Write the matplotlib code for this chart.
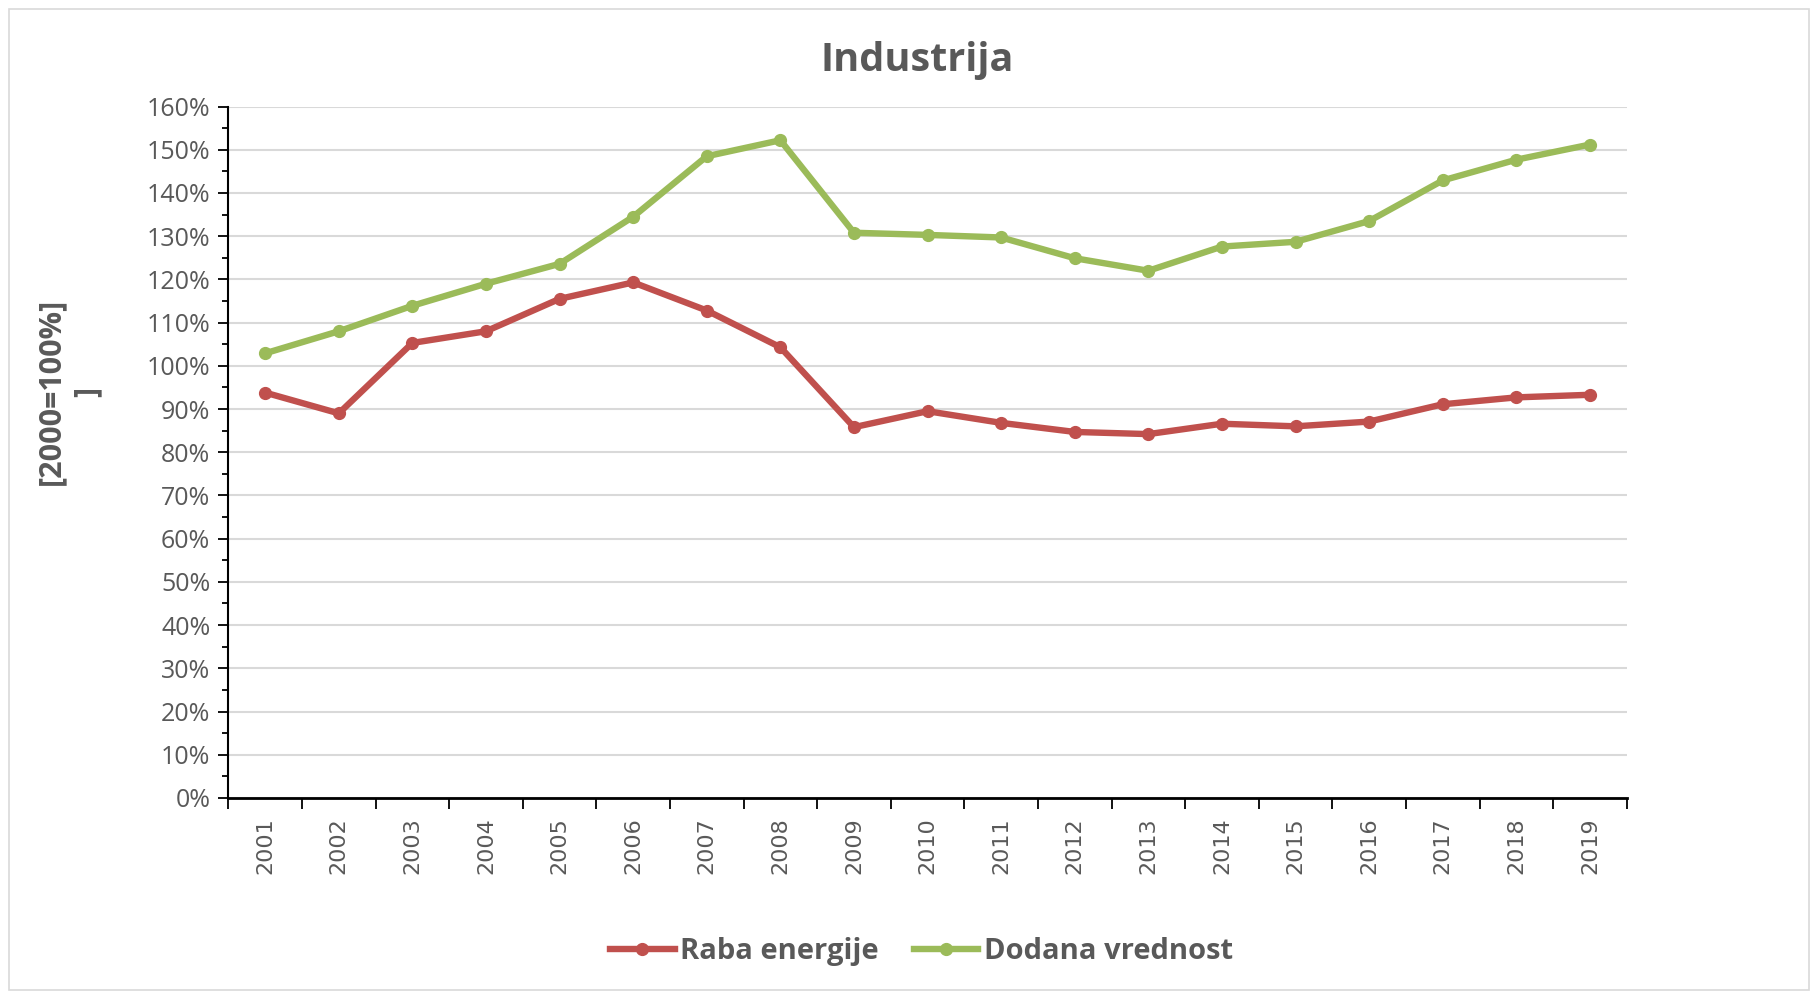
import matplotlib
matplotlib.use("Agg")
import matplotlib.pyplot as plt
from matplotlib.ticker import FixedLocator, PercentFormatter, MultipleLocator
from matplotlib.patches import Rectangle

years = ["2001", "2002", "2003", "2004", "2005", "2006", "2007", "2008", "2009", "2010",
         "2011", "2012", "2013", "2014", "2015", "2016", "2017", "2018", "2019"]
raba_energije = [93.8, 89.0, 105.3, 108.0, 115.5, 119.3, 112.8, 104.3, 85.8, 89.5,
                 86.8, 84.7, 84.2, 86.6, 86.0, 87.1, 91.1, 92.7, 93.3]
dodana_vrednost = [102.9, 108.0, 113.9, 119.0, 123.6, 134.5, 148.5, 152.2, 130.8, 130.3,
                   129.7, 124.9, 122.0, 127.6, 128.7, 133.5, 142.9, 147.7, 151.2]
series_names = ["Raba energije", "Dodana vrednost"]
title = "Industrija"
ylabel = "[2000=100%]\n]"

plt.rcParams['font.family'] = ['Open Sans', 'DejaVu Sans']
txt = '#595959'

fig = plt.figure(figsize=(18.18, 9.96), dpi=100)
fig.patches.append(Rectangle((8/1568, 1-855/860), (1560-8)/1568, (855-8)/860,
                             transform=fig.transFigure, fill=False, ec='#D9D9D9', lw=1.2))
ax = fig.add_axes([197/1568, 1-689/860, (1403-197)/1568, (689-92)/860])

x = list(range(len(years)))
ax.plot(x, raba_energije, color='#C0504D', lw=4.6, marker='o', ms=8.5, label=series_names[0],
        solid_joinstyle='round', zorder=3)
ax.plot(x, dodana_vrednost, color='#9BBB59', lw=4.6, marker='o', ms=8.5, label=series_names[1],
        solid_joinstyle='round', zorder=3)

ax.set_xlim(-0.5, len(years) - 0.5)
ax.set_ylim(0, 160)
ax.yaxis.set_major_locator(MultipleLocator(10))
ax.yaxis.set_minor_locator(MultipleLocator(5))
ax.yaxis.set_major_formatter(PercentFormatter(decimals=0))
ax.grid(axis='y', which='major', color='#D9D9D9', lw=1.5)
ax.set_axisbelow(True)

ax.set_xticks(x)
ax.set_xticklabels(years, rotation=90, fontsize=16, color=txt, family=['DejaVu Sans'])
ax.xaxis.set_minor_locator(FixedLocator([i - 0.5 for i in range(len(years) + 1)]))
ax.tick_params(axis='x', which='major', length=0, pad=14)
ax.tick_params(axis='x', which='minor', length=8, width=1.3, color='black', direction='out')
ax.tick_params(axis='y', which='major', length=7, width=1.3, color='black', labelsize=18,
               labelcolor=txt, pad=6)
ax.tick_params(axis='y', which='minor', length=4, width=1.3, color='black')

for s in ['top', 'right']:
    ax.spines[s].set_visible(False)
ax.spines['left'].set_linewidth(1.5)
ax.spines['bottom'].set_linewidth(2)

fig.text(791/1568, 1-52/860, title, ha='center', va='center', fontsize=28.5,
         fontweight='bold', color=txt)
fig.text(60/1568, 1-338/860, ylabel, ha='center', va='center', rotation=90,
         fontsize=22, fontweight='bold', color=txt, multialignment='center',
         linespacing=1.3)

leg = fig.legend(loc='center', bbox_to_anchor=(795/1568, 1-822/860), ncol=2, frameon=False,
                 fontsize=21, handlelength=2.2, columnspacing=1.2, handletextpad=0.2)
for t in leg.get_texts():
    t.set_color(txt)
    t.set_fontweight('bold')

fig.savefig("out.png", dpi=100, facecolor='white')
